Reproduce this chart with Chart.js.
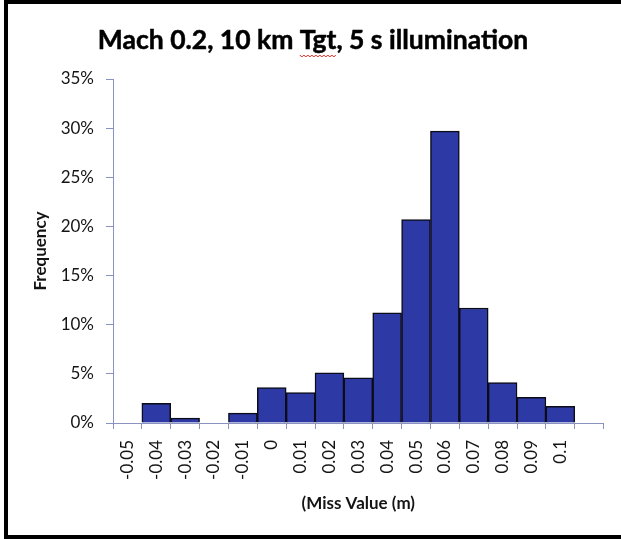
<!DOCTYPE html>
<html>
<head>
<meta charset="utf-8">
<script src="https://cdn.jsdelivr.net/npm/chart.js@4/dist/chart.umd.min.js"></script>
<style>
  html, body { margin: 0; padding: 0; background: #fff; }
  #wrap { position: relative; width: 621px; height: 539px; overflow: hidden; }
  #frame {
    position: absolute; left: 4px; top: 0; width: 720px; height: 539px;
    box-sizing: border-box; border: 4px solid #000; border-right: none;
    pointer-events: none;
  }
  canvas { display: block; }
</style>
</head>
<body>
<div id="wrap">
  <canvas id="hist" width="621" height="539"></canvas>
  <div id="frame"></div>
</div>
<script>
// Histogram bins (miss value, m) and share of runs in each bin (%)
const missBins = ['-0.05', '-0.04', '-0.03', '-0.02', '-0.01', '0', '0.01', '0.02',
                  '0.03', '0.04', '0.05', '0.06', '0.07', '0.08', '0.09', '0.1', ''];
const frequencyPct = [0, 2.0, 0.5, 0, 1.0, 3.6, 3.1, 5.1,
                      4.6, 11.2, 20.7, 29.7, 11.7, 4.1, 2.6, 1.7, 0];

// Frequency axis range and step (%)
const freqMin = 0;
const freqMax = 35;
const freqStep = 5;

const titleText = 'Mach 0.2, 10 km Tgt, 5 s illumination';
const flaggedWord = 'Tgt';
const xTitle = '(Miss Value (m)';
const yTitle = 'Frequency';

const axisColor = '#8a92bf';
const inkColor = '#141414';
const fontFamily = 'Lato, "Open Sans", sans-serif';

// Chart heading, with the red spell-check squiggle under one word
const headline = {
  id: 'headline',
  afterDraw(chart) {
    const ctx = chart.ctx;
    ctx.save();
    ctx.font = 'bold 26.5px ' + fontFamily;
    ctx.fillStyle = '#000';
    ctx.textAlign = 'left';
    ctx.textBaseline = 'alphabetic';
    const w = ctx.measureText(titleText).width;
    const x0 = 313 - w / 2;
    const base = 49;
    ctx.fillText(titleText, x0, base);
    // slight extra weight on the heading strokes
    ctx.lineWidth = 0.5;
    ctx.strokeStyle = '#000';
    ctx.strokeText(titleText, x0, base);

    const idx = titleText.indexOf(flaggedWord);
    const sx = x0 + ctx.measureText(titleText.slice(0, idx)).width;
    const sw = ctx.measureText(flaggedWord).width;
    ctx.strokeStyle = '#e0261f';
    ctx.lineWidth = 1;
    ctx.beginPath();
    let up = true;
    for (let x = 0; x <= sw; x += 2) {
      const y = base + (up ? 6 : 8);
      if (x === 0) ctx.moveTo(sx + x, y); else ctx.lineTo(sx + x, y);
      up = !up;
    }
    ctx.stroke();
    ctx.restore();
  }
};

function draw() {
  new Chart(document.getElementById('hist'), {
    type: 'bar',
    data: {
      labels: missBins,
      datasets: [{
        data: frequencyPct,
        backgroundColor: '#2d3aa6',
        borderColor: '#0c0c18',
        borderWidth: 1.5,
        barPercentage: 1,
        categoryPercentage: 1
      }]
    },
    options: {
      responsive: false,
      animation: false,
      devicePixelRatio: 1,
      layout: { padding: { top: 79, right: 14, bottom: 0, left: 0 } },
      plugins: {
        legend: { display: false },
        tooltip: { enabled: false },
        title: { display: false }
      },
      scales: {
        x: {
          offset: true,
          grid: { offset: true, drawOnChartArea: false, tickLength: 6, color: axisColor, lineWidth: 1 },
          border: { color: axisColor, width: 1 },
          ticks: {
            autoSkip: false, minRotation: 90, maxRotation: 90, padding: 11,
            color: inkColor, font: { family: fontFamily, size: 17 }
          },
          title: {
            display: true, text: xTitle, color: inkColor,
            font: { family: fontFamily, size: 17, weight: 'bold' },
            padding: { top: 0, bottom: 25 }
          },
          afterFit(scale) { scale.height = 116; }
        },
        y: {
          min: freqMin,
          max: freqMax,
          grid: { drawOnChartArea: false, tickLength: 7, color: axisColor, lineWidth: 1 },
          border: { color: axisColor, width: 1 },
          ticks: {
            stepSize: freqStep, padding: 12, color: inkColor,
            font: { family: fontFamily, size: 17 },
            callback: v => v + '%'
          },
          title: {
            display: true, text: yTitle, color: inkColor,
            font: { family: fontFamily, size: 17, weight: 'bold' },
            padding: { top: 30, bottom: 0 }
          },
          afterFit(scale) { scale.width = 113; }
        }
      }
    },
    plugins: [headline]
  });
}

const fontsReady = document.fonts
  ? Promise.all([
      document.fonts.load('bold 26.5px Lato'),
      document.fonts.load('17px Lato')
    ]).catch(() => null)
  : Promise.resolve();
fontsReady.then(draw);
</script>
</body>
</html>
